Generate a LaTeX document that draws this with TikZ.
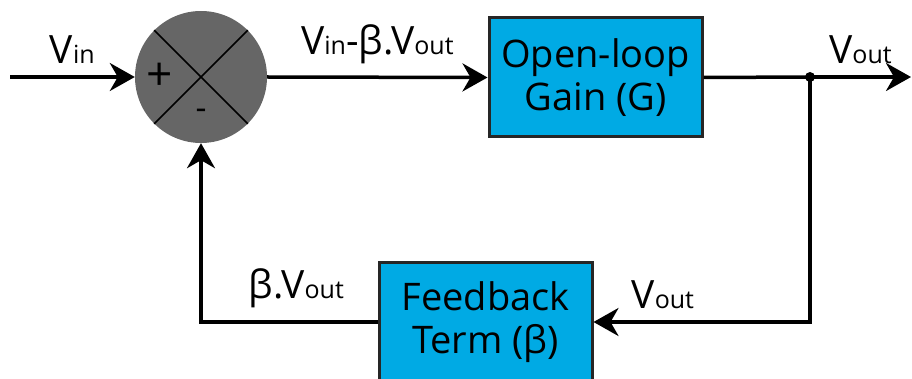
\documentclass[tikz,border=0pt]{standalone}
\usepackage{fontspec}
\setmainfont{Open Sans}
\usetikzlibrary{arrows.meta}

\definecolor{boxblue}{RGB}{0,170,228}
\definecolor{sumgray}{RGB}{102,102,102}
\newcommand{\lowtxt}[1]{{\fontsize{25}{25}\selectfont #1}}

\tikzset{
    wire/.style={line width=3.5pt},
    arr/.style={wire, -{Stealth[length=25pt,width=28pt,inset=8pt]}},
    blockbox/.style={draw=black!85, line width=3pt, fill=boxblue, minimum width=213pt,
        minimum height=119pt, align=center, font=\fontsize{38}{43}\selectfont},
    lbl/.style={font=\fontsize{39}{43}\selectfont, inner sep=0pt}
}

\begin{document}
\begin{tikzpicture}[x=1pt, y=-1pt]
    \useasboundingbox (0, 0) rectangle (912, 379);

    \node[circle, fill=sumgray, minimum size=132pt, inner sep=0pt] (sum) at (201, 77) {};
    \draw[line width=1.5pt] (sum.north west) -- (sum.south east);
    \draw[line width=1.5pt] (sum.north east) -- (sum.south west);
    \node[font=\fontsize{46}{46}\selectfont, inner sep=0pt] (plus) at (160, 77) {+};
    \node[font=\fontsize{34}{34}\selectfont, inner sep=0pt] (minus) at (201, 114) {-};

    \node[blockbox] (gain) at (595.5, 77.5) {Open-loop\\Gain (G)};
    \node[blockbox] (fb) at (485.5, 322) {Feedback\\Term (β)};

    \coordinate (in) at (10, 77);
    \coordinate (split) at (810, 77);
    \coordinate (out) at (911, 77);

    \draw[arr] (in) -- (sum.west) node[lbl, midway, above=12pt] {V\lowtxt{in}};
    \draw[arr] (sum.east) -- (gain.west) node[lbl, midway, above=12pt] {V\lowtxt{in}-β.V\lowtxt{out}};
    \draw[wire] (gain.east) -- (split);
    \draw[arr] (split) -- (out) node[lbl, midway, above=12pt] {V\lowtxt{out}};
    \fill (split) circle (5pt);

    \draw[arr] (split) |- (fb.east) node[lbl, pos=0.84, above=12pt] {V\lowtxt{out}};
    \draw[arr] (fb.west) -| (sum.south) node[lbl, pos=0.23, above=12pt] {β.V\lowtxt{out}};
\end{tikzpicture}
\end{document}
